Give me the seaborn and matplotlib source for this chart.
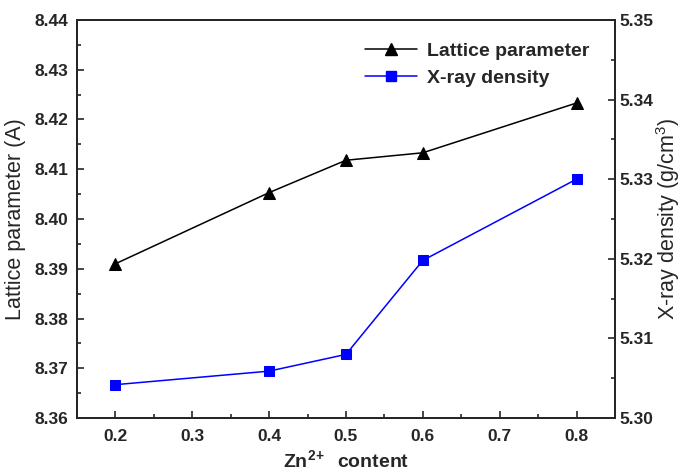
import numpy as np
import pandas as pd
import matplotlib
matplotlib.use("Agg")
import matplotlib.pyplot as plt
from matplotlib.lines import Line2D
from matplotlib.ticker import MultipleLocator
import seaborn as sns

zn_content = [0.2, 0.4, 0.5, 0.6, 0.8]
lattice_param = [8.391, 8.4053, 8.4118, 8.4133, 8.4233]
xray_density = [5.3042, 5.3059, 5.3080, 5.3198, 5.3300]

sns.set_style("ticks")
plt.rcParams["font.family"] = ["Liberation Sans", "DejaVu Sans"]
plt.rcParams["mathtext.fontset"] = "custom"
plt.rcParams["mathtext.rm"] = "Liberation Sans"
plt.rcParams["mathtext.bf"] = "Liberation Sans:bold"
plt.rcParams["xtick.direction"] = "in"
plt.rcParams["ytick.direction"] = "in"

df = pd.DataFrame({"x": zn_content, "lat": lattice_param, "rho": xray_density})

fig = plt.figure(figsize=(6.81, 4.73), dpi=100)
ax = fig.add_axes([0.113, 0.116, 0.790, 0.842])
ax2 = ax.twinx()

sns.lineplot(data=df, x="x", y="lat", ax=ax, color="black", marker="^",
             markersize=8.5, markeredgecolor="black", linewidth=1.1)
sns.lineplot(data=df, x="x", y="rho", ax=ax2, color="#0000ff", marker="s",
             markersize=6.5, markeredgecolor="#0000ff", linewidth=1.1)

ax.xaxis.set_major_locator(MultipleLocator(0.1))
ax.xaxis.set_minor_locator(MultipleLocator(0.05))
ax.yaxis.set_major_locator(MultipleLocator(0.01))
ax.yaxis.set_minor_locator(MultipleLocator(0.005))
ax2.yaxis.set_major_locator(MultipleLocator(0.01))
ax2.yaxis.set_minor_locator(MultipleLocator(0.005))

ax.set_xlim(0.15, 0.85)
ax.set_ylim(8.36, 8.44)
ax2.set_ylim(5.30, 5.35)
ax.xaxis.set_major_formatter(matplotlib.ticker.FormatStrFormatter("%.1f"))
ax.yaxis.set_major_formatter(matplotlib.ticker.FormatStrFormatter("%.2f"))
ax2.yaxis.set_major_formatter(matplotlib.ticker.FormatStrFormatter("%.2f"))

for a in (ax, ax2):
    a.tick_params(which="major", length=5, width=1.2, labelsize=12.5)
    a.tick_params(which="minor", length=3, width=1.2)
    for sp in a.spines.values():
        sp.set_linewidth(1.4)
ax.tick_params(axis="x", pad=8)
ax.tick_params(axis="y", pad=6)
ax2.tick_params(axis="y", pad=3)
fig.canvas.draw()
for a in (ax, ax2):
    for lbl in a.get_xticklabels() + a.get_yticklabels():
        lbl.set_fontweight("bold")

ax.set_xlabel(r"Zn$^{\mathbf{2\!+}}$  content", fontsize=14, fontweight="bold", labelpad=4)
ax.set_ylabel("Lattice parameter (A)", fontsize=15.5, labelpad=6)
ax2.set_ylabel(r"X-ray density (g/cm$^{3}$)", fontsize=15.5, labelpad=1)

handles = [
    Line2D([], [], color="black", marker="^", markersize=8.5, linewidth=1.1),
    Line2D([], [], color="#0000ff", marker="s", markersize=6.5, linewidth=1.1),
]
ax.legend(handles, ["Lattice parameter", "X-ray density"], loc="upper right",
          bbox_to_anchor=(0.952, 0.943), frameon=False, handlelength=2.7,
          handletextpad=0.5, labelspacing=0.45, borderpad=0, borderaxespad=0,
          prop={"weight": "bold", "size": 14})

fig.savefig("out.png", dpi=100)
